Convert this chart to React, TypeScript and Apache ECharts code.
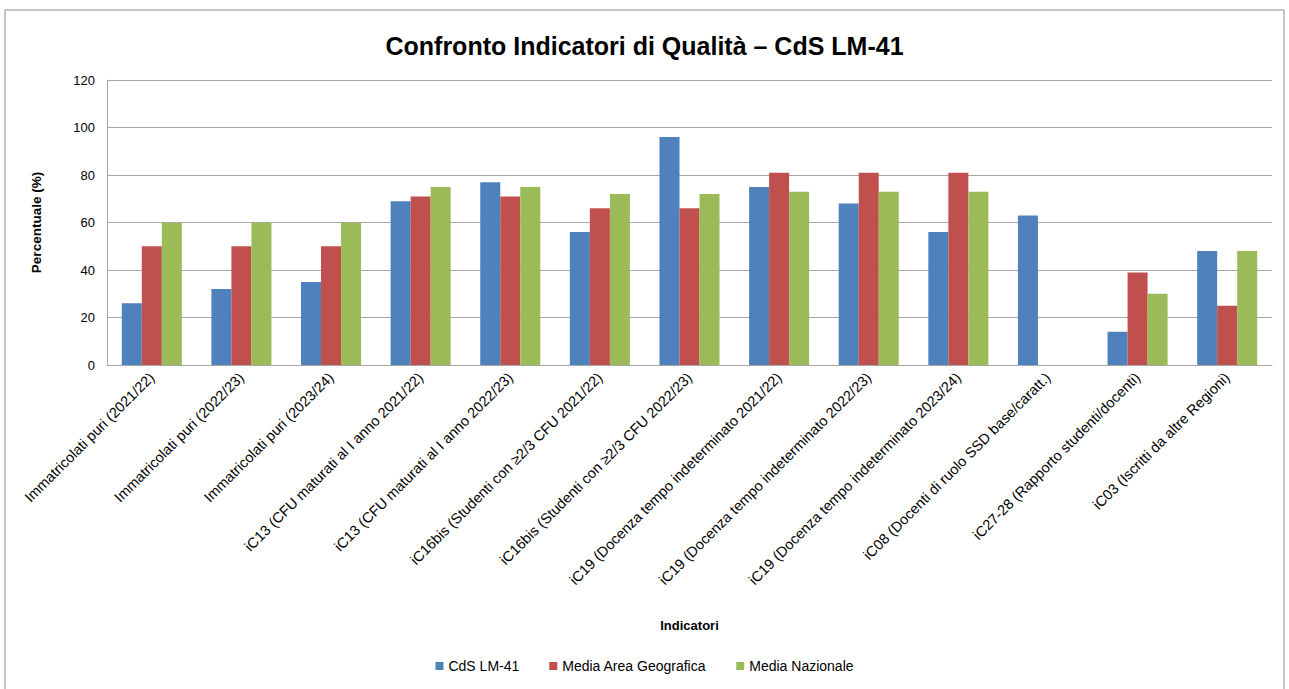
import React, { useEffect, useRef } from "react";
import * as echarts from "echarts";

const categories = [
  "Immatricolati puri (2021/22)",
  "Immatricolati puri (2022/23)",
  "Immatricolati puri (2023/24)",
  "iC13 (CFU maturati al I anno 2021/22)",
  "iC13 (CFU maturati al I anno 2022/23)",
  "iC16bis (Studenti con ≥2/3 CFU 2021/22)",
  "iC16bis (Studenti con ≥2/3 CFU 2022/23)",
  "iC19 (Docenza tempo indeterminato 2021/22)",
  "iC19 (Docenza tempo indeterminato 2022/23)",
  "iC19 (Docenza tempo indeterminato 2023/24)",
  "iC08 (Docenti di ruolo SSD base/caratt.)",
  "iC27-28 (Rapporto studenti/docenti)",
  "iC03 (Iscritti da altre Regioni)",
];

const cdsValues = [26, 32, 35, 69, 77, 56, 96, 75, 68, 56, 63, 14, 48];
const areaValues = [50, 50, 50, 71, 71, 66, 66, 81, 81, 81, null, 39, 25];
const nazionaleValues = [60, 60, 60, 75, 75, 72, 72, 73, 73, 73, null, 30, 48];

const seriesNames = ["CdS LM-41", "Media Area Geografica", "Media Nazionale"];
const colors = ["#4F81BD", "#C0504D", "#9BBB59"];

const FONT = "'Liberation Sans', Arial, sans-serif";

export default function App() {
  const ref = useRef<HTMLDivElement>(null);

  useEffect(() => {
    if (!ref.current) return;
    const chart = echarts.init(ref.current, null, { renderer: "svg" });
    const data = [cdsValues, areaValues, nazionaleValues];
    chart.setOption({
      animation: false,
      backgroundColor: "#ffffff",
      textStyle: { fontFamily: FONT },
      title: {
        text: "Confronto Indicatori di Qualità – CdS LM-41",
        left: "center",
        top: 28,
        textStyle: {
          fontFamily: "'Liberation Sans Narrow', 'Liberation Sans', sans-serif",
          fontSize: 25,
          fontWeight: "bold",
          color: "#000000",
        },
      },
      graphic: [
        {
          type: "rect",
          shape: { x: 5, y: 10, width: 1279, height: 690 },
          style: { fill: "none", stroke: "#8c8c8c", lineWidth: 1 },
          silent: true,
        },
      ],
      legend: {
        bottom: 11,
        left: "center",
        itemWidth: 8,
        itemHeight: 8,
        itemGap: 30,
        icon: "rect",
        textStyle: { fontSize: 14, color: "#000000", fontFamily: FONT },
        data: seriesNames,
      },
      grid: { left: 107, right: 17, top: 80, bottom: 324, containLabel: false },
      xAxis: {
        type: "category",
        data: categories,
        name: "Indicatori",
        nameLocation: "middle",
        nameGap: 254,
        nameTextStyle: { fontWeight: "bold", fontSize: 13, color: "#000000" },
        axisLine: { lineStyle: { color: "#a6a6a6" } },
        axisTick: { show: false },
        axisLabel: {
          rotate: 45,
          interval: 0,
          fontSize: 14.5,
          color: "#000000",
          margin: 10,
        },
      },
      yAxis: {
        type: "value",
        min: 0,
        max: 120,
        interval: 20,
        name: "Percentuale (%)",
        nameLocation: "middle",
        nameGap: 64,
        nameRotate: 90,
        nameTextStyle: { fontWeight: "bold", fontSize: 13.5, color: "#000000" },
        axisLine: { show: true, lineStyle: { color: "#a6a6a6" } },
        axisTick: { show: false },
        axisLabel: { fontSize: 13, color: "#000000", margin: 12 },
        splitLine: { lineStyle: { color: "#a6a6a6" } },
      },
      series: seriesNames.map((name, i) => ({
        name,
        type: "bar",
        data: data[i],
        barGap: "0%",
        barCategoryGap: "33%",
        itemStyle: { color: colors[i] },
      })),
    });
    return () => chart.dispose();
  }, []);

  return (
    <div
      ref={ref}
      style={{ position: "fixed", left: 0, top: 0, width: 1289, height: 689 }}
    />
  );
}
